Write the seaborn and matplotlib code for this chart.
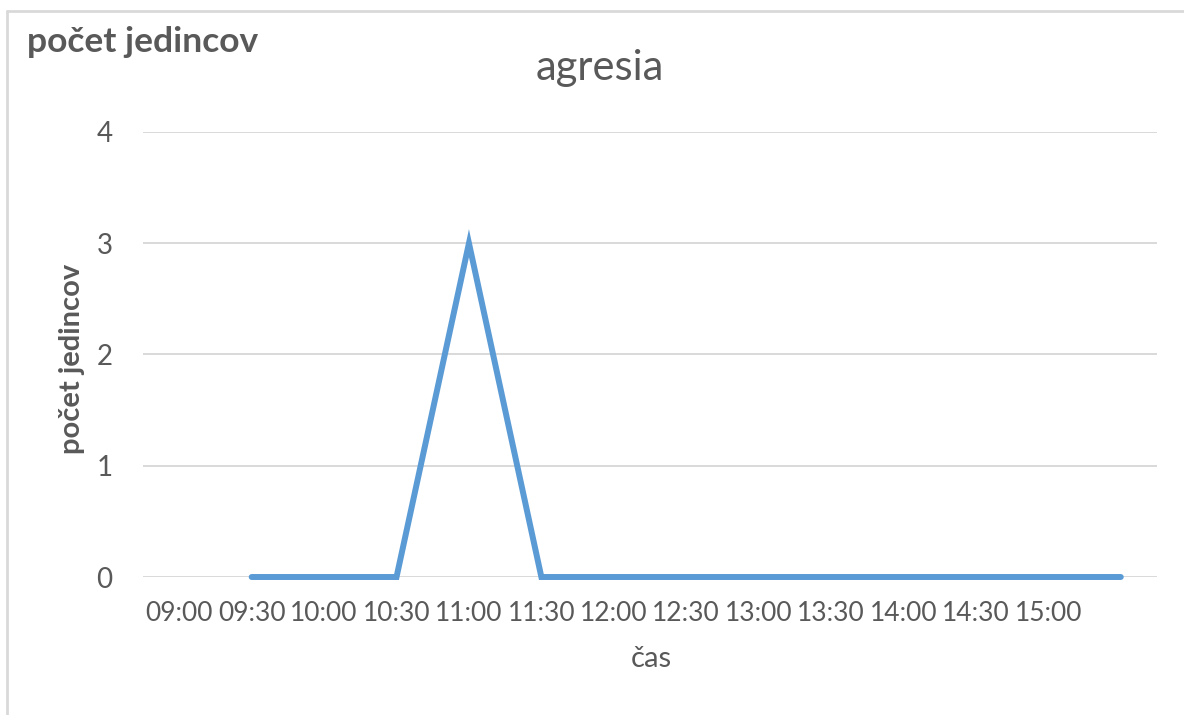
import numpy as np
import pandas as pd
import matplotlib
matplotlib.use("Agg")
import matplotlib.pyplot as plt
import seaborn as sns
from matplotlib.lines import Line2D

# -------------------------
# Data
# -------------------------
times = ["09:00", "09:30", "10:00", "10:30", "11:00", "11:30", "12:00",
         "12:30", "13:00", "13:30", "14:00", "14:30", "15:00", "15:30"]
tick_labels = ["09:00", "09:30", "10:00", "10:30", "11:00", "11:30", "12:00",
               "12:30", "13:00", "13:30", "14:00", "14:30", "15:00", ""]
counts = [np.nan, 0, 0, 0, 3, 0, 0, 0, 0, 0, 0, 0, 0, 0]

df = pd.DataFrame({"pos": range(len(times)), "cas": times, "count": counts})
df = df.dropna()

# -------------------------
# Style
# -------------------------
sns.set_theme(style="white")
plt.rcParams["font.family"] = ["Lato", "DejaVu Sans"]
text_col = "#595959"

fig = plt.figure(figsize=(11.84, 7.15), dpi=100)
ax = fig.add_axes([0.1208, 0.193, 0.8564, 0.6224])

sns.lineplot(data=df, x="pos", y="count", color="#5B9BD5", linewidth=4.3,
             ax=ax, clip_on=False, solid_capstyle="round",
             solid_joinstyle="miter")

ax.set_xlim(-0.5, len(times) - 0.5)
ax.set_ylim(0, 4)
ax.set_yticks([0, 1, 2, 3, 4])
ax.set_xticks(range(len(times)))
ax.set_xticklabels(tick_labels)
ax.tick_params(axis="x", length=0, labelsize=19, colors=text_col, pad=17)
ax.tick_params(axis="y", length=0, labelsize=20, colors=text_col, pad=22)
ax.yaxis.grid(True, color="#D9D9D9", linewidth=1.4)
ax.set_axisbelow(True)
for s in ax.spines.values():
    s.set_visible(False)

ax.set_xlabel("čas", fontsize=21, color=text_col)
ax.xaxis.set_label_coords(0.501, -0.155)
ax.set_ylabel("počet jedincov", fontsize=21, color=text_col,
              fontweight="bold")
ax.yaxis.set_label_coords(-0.057, 0.49)

fig.text(0.5068, 0.905, "agresia", ha="center", va="center",
         fontsize=30, color=text_col)
fig.text(0.023, 0.941, "počet jedincov", ha="left", va="center",
         fontsize=25.5, color=text_col, fontweight="bold")

# chart border (top and left edge visible)
fig.add_artist(Line2D([0.006, 1.0], [0.985, 0.985], color="#D9D9D9",
                      linewidth=2, transform=fig.transFigure))
fig.add_artist(Line2D([0.006, 0.006], [0.0, 0.985], color="#D9D9D9",
                      linewidth=2, transform=fig.transFigure))

fig.savefig("out.png", dpi=100)
